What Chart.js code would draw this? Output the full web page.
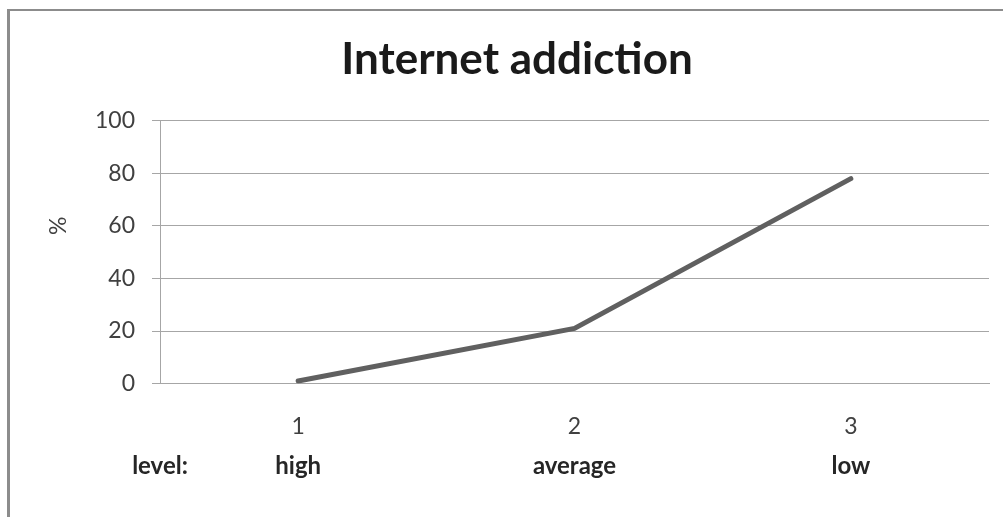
<!DOCTYPE html>
<html>
<head>
<meta charset="utf-8">
<script src="https://cdn.jsdelivr.net/npm/chart.js@4"></script>
<style>
  html, body { margin: 0; padding: 0; background: #fff; overflow: hidden; }
  #frame {
    position: absolute; left: 7px; top: 9px;
    border-left: 3px solid #8c8c8c; border-top: 2px solid #8c8c8c;
    width: 1100px; height: 600px;
  }
</style>
</head>
<body>
<div id="frame"><canvas id="line-chart" width="1004" height="520"></canvas></div>
<script>
const tickLabels = ['1', '2', '3']
const addiction = [1, 21, 78]
const levelTicks = [0.5, 1, 2, 3]
const levelLabels = ['level:', 'high', 'average', 'low']
const yTicks = [0, 20, 40, 60, 80, 100]

Chart.defaults.font.family = 'Lato, "Open Sans", sans-serif'
Chart.defaults.color = '#404040'

//Line chart
new Chart(document.getElementById('line-chart'), {
    type: 'line',
    data: {
        labels: tickLabels,
        datasets: [{
            label: 'Internet addiction',
            data: addiction,
            borderColor: '#606060',
            borderWidth: 5,
            borderCapStyle: 'round',
            pointRadius: 0,
            tension: 0,
            fill: false
        }]
    },
    options: {
        responsive: false,
        animation: false,
        layout: { padding: { left: 35, right: 25, top: 0, bottom: 50 } },
        plugins: {
            legend: { display: false },
            tooltip: { enabled: false },
            title: {
                display: true,
                text: 'Internet addiction',
                color: '#1a1a1a',
                font: { size: 44, weight: 'bold' },
                padding: { top: 22, bottom: 35 }
            }
        },
        scales: {
            x: {
                type: 'category',
                offset: true,
                grid: { display: true, drawOnChartArea: false, drawTicks: true, tickLength: 29, tickColor: 'rgba(0,0,0,0)' },
                border: { display: true, color: '#a6a6a6', width: 1 },
                ticks: { padding: 0, font: { size: 23 }, color: '#404040' }
            },
            x2: {
                type: 'linear',
                position: 'bottom',
                min: 0.5,
                max: 3.5,
                grid: { display: true, drawOnChartArea: false, drawTicks: true, tickLength: 12, tickColor: 'rgba(0,0,0,0)' },
                border: { display: false },
                afterBuildTicks: axis => { axis.ticks = levelTicks.map(v => ({ value: v })) },
                ticks: {
                    autoSkip: false,
                    padding: 0,
                    font: { size: 24, weight: 'bold' },
                    color: '#262626',
                    callback: (v, i) => levelLabels[i]
                }
            },
            y: {
                min: 0,
                max: 100,
                afterFit: s => { s.width = 115 },
                afterBuildTicks: axis => { axis.ticks = yTicks.map(v => ({ value: v })) },
                grid: { color: '#a6a6a6', lineWidth: 1, tickLength: 8 },
                border: { color: '#a6a6a6', width: 1 },
                ticks: { padding: 17, font: { size: 23 }, color: '#404040' },
                title: {
                    display: true,
                    // leading spaces push the sign up like in the original
                    text: ' '.repeat(9) + '%',
                    color: '#404040',
                    font: { size: 23 },
                    padding: 0
                }
            }
        }
    }
})
</script>
</body>
</html>
